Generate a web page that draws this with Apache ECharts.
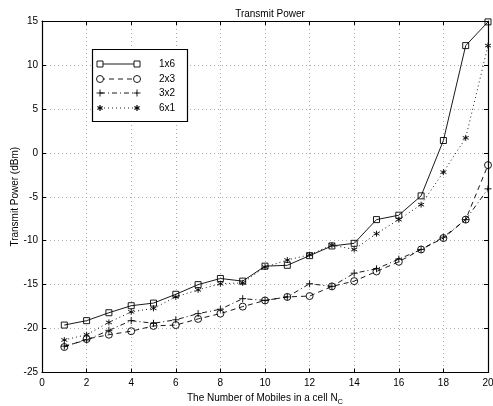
<!DOCTYPE html>
<html><head><meta charset="utf-8">
<script src="https://cdn.jsdelivr.net/npm/echarts@6/dist/echarts.min.js"></script>
<style>html,body{margin:0;padding:0;background:#fff}#c{width:493px;height:406px}</style>
</head><body><div id="c"></div>
<script>
const categories = [1,2,3,4,5,6,7,8,9,10,11,12,13,14,15,16,17,18,19,20];
const s1x6 = [-19.6,-19.1,-18.2,-17.4,-17.1,-16.1,-15.0,-14.3,-14.6,-12.9,-12.8,-11.7,-10.6,-10.3,-7.6,-7.1,-4.9,1.4,12.2,14.9];
const s2x3 = [-22.1,-21.2,-20.7,-20.3,-19.7,-19.6,-18.9,-18.3,-17.5,-16.8,-16.4,-16.3,-15.2,-14.6,-13.5,-12.4,-11.0,-9.7,-7.6,-1.4];
const s3x2 = [-22.0,-21.3,-20.2,-19.1,-19.4,-19.0,-18.3,-17.8,-16.6,-16.8,-16.4,-14.9,-15.2,-13.7,-13.2,-12.1,-11.0,-9.6,-7.6,-4.1];
const s6x1 = [-21.3,-20.7,-19.3,-18.1,-17.7,-16.4,-15.6,-14.9,-14.8,-13.0,-12.2,-11.6,-10.5,-11.0,-9.2,-7.6,-5.9,-2.2,1.7,12.2];
const seriesNames = ['1x6','2x3','3x2','6x1'];
const xTicks = [0,2,4,6,8,10,12,14,16,18,20];
const yTicks = [-25,-20,-15,-10,-5,0,5,10,15];

const FONT = 'Liberation Sans, Arial, sans-serif';
const FS = 10;
const star = 'path://M0,-5L0,5M-4.33,-2.5L4.33,2.5M-4.33,2.5L4.33,-2.5';
const plus = 'path://M-5,0L5,0M0,-5L0,5';
const pair = arr => categories.map((c,i)=>[c,arr[i]]);

const chart = echarts.init(document.getElementById('c'), null, {renderer:'canvas'});
const axisCommon = {
  min: 0, max: 20, interval: 2, type: 'value'
};
function mk(name, data, lineType, symbol, size, fillWhite) {
  return {
    name, type:'line', data: pair(data), xAxisIndex:0, yAxisIndex:0,
    symbol, symbolSize: size, showSymbol:true,
    lineStyle:{color:'#000', width:0.9, type: lineType},
    itemStyle:{color: fillWhite ? 'rgba(255,255,255,0)' : '#000', borderColor:'#000', borderWidth:0.9},
    emphasis:{disabled:true}, animation:false, z:3
  };
}
// legend graphic
const lgX = 92, lgY = 49, lgW = 95, lgH = 72;
const rows = [64, 79, 93, 108];
const legendEls = [{type:'rect', shape:{x:lgX+0.5,y:lgY+0.5,width:lgW,height:lgH}, style:{fill:'#fff',stroke:'#000',lineWidth:1.2}, z:10}];
const dashes = [null, [5,4], [5,3,1,3], [1,3]];
const ln = (x1,y1,x2,y2,w) => ({type:'line', shape:{x1,y1,x2,y2}, style:{stroke:'#000',lineWidth:w||0.9}, z:12});
rows.forEach((y,i)=>{
  legendEls.push({type:'line', shape:{x1:100,y1:y,x2:137,y2:y}, style:{stroke:'#000',lineWidth:0.9,lineDash:dashes[i]}, z:11});
  [100,137].forEach(x=>{
    if(i===0) legendEls.push({type:'rect', shape:{x:x-3,y:y-3,width:6,height:6}, style:{fill:'#fff',stroke:'#000',lineWidth:0.9}, z:12});
    if(i===1) legendEls.push({type:'circle', shape:{cx:x,cy:y,r:3.5}, style:{fill:'#fff',stroke:'#000',lineWidth:0.9}, z:12});
    if(i===2) legendEls.push(ln(x-3.5,y,x+3.5,y), ln(x,y-3.5,x,y+3.5));
    if(i===3) legendEls.push(ln(x,y-3,x,y+3,1.2), ln(x-2.6,y-1.5,x+2.6,y+1.5,1.2), ln(x-2.6,y+1.5,x+2.6,y-1.5,1.2));
  });
  legendEls.push({type:'text', style:{text:seriesNames[i], x:159, y:y, textVerticalAlign:'middle', font:FS+'px '+FONT, fill:'#000'}, z:12});
});

const tickStyle = {show:true,inside:true,length:4,lineStyle:{color:'#000',width:1}};
const lineStyleAx = {show:true,onZero:false,lineStyle:{color:'#000',width:1.2}};
chart.setOption({
  animation:false,
  backgroundColor:'#fff',
  title:{text:'Transmit Power', left:265, top:4, textAlign:'center', textStyle:{fontFamily:FONT,fontSize:FS,fontWeight:'normal',color:'#000'}},
  grid:{left:42, right:5, top:21, bottom:33.5, show:false, containLabel:false, outerBoundsMode:'none'},
  xAxis:[
    Object.assign({}, axisCommon, {position:'bottom',
      name:'The Number of Mobiles in a cell N{sub|C}', nameLocation:'middle', nameGap:19, nameMoveOverlap:false,
      nameTextStyle:{fontFamily:FONT,fontSize:FS,color:'#000',rich:{sub:{fontFamily:FONT,fontSize:7.5,verticalAlign:'bottom',padding:[6,0,0,0]}}},
      axisLine:lineStyleAx, axisTick:tickStyle,
      axisLabel:{fontFamily:FONT,fontSize:FS,color:'#000',margin:6},
      splitLine:{show:true,lineStyle:{color:'#999',type:[1,3],width:0.8}}}),
    Object.assign({}, axisCommon, {position:'top',
      axisLine:lineStyleAx, axisTick:tickStyle,
      axisLabel:{show:false}, splitLine:{show:false}})
  ],
  yAxis:[
    {type:'value', min:-25, max:15, interval:5, position:'left',
      name:'Transmit Power (dBm)', nameLocation:'middle', nameGap:22, nameRotate:90, nameMoveOverlap:false,
      nameTextStyle:{fontFamily:FONT,fontSize:FS,color:'#000'},
      axisLine:lineStyleAx, axisTick:tickStyle,
      axisLabel:{fontFamily:FONT,fontSize:FS,color:'#000',margin:4},
      splitLine:{show:true,lineStyle:{color:'#999',type:[1,3],width:0.8}}},
    {type:'value', min:-25, max:15, interval:5, position:'right',
      axisLine:lineStyleAx, axisTick:tickStyle,
      axisLabel:{show:false}, splitLine:{show:false}}
  ],
  series:[
    mk('1x6', s1x6, 'solid', 'rect', 6, true),
    mk('2x3', s2x3, [5,4], 'circle', 7, true),
    mk('3x2', s3x2, [5,3,1,3], plus, 7, false),
    mk('6x1', s6x1, [1,3], star, 6, false)
  ],
  graphic: legendEls
});
</script></body></html>
